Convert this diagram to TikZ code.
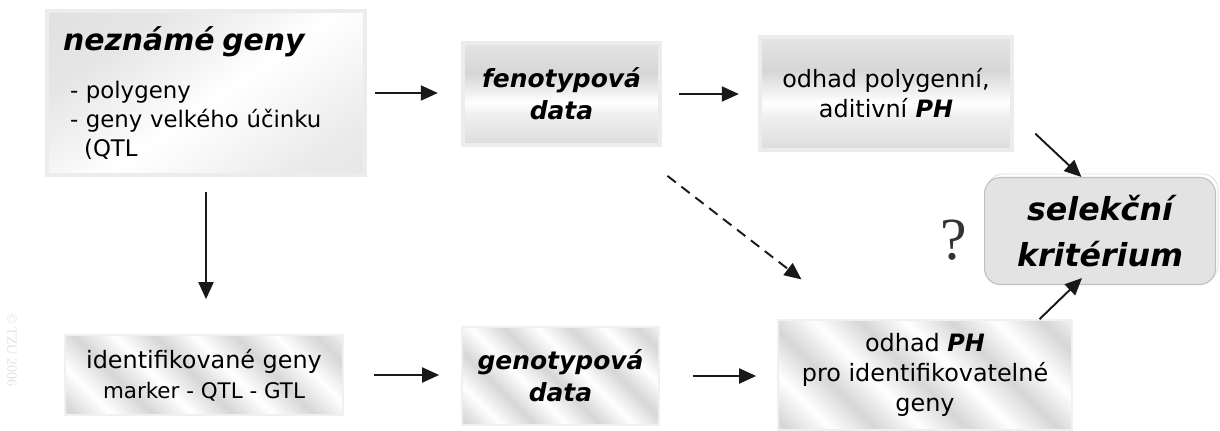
\documentclass[tikz,border=0pt]{standalone}
\usepackage{fontspec}
\setmainfont{DejaVu Sans}
\newfontfamily\qfont{Liberation Serif}
\usetikzlibrary{arrows.meta}

% shadings for the boxes
\pgfdeclarehorizontalshading{shine}{100bp}{color(0bp)=(gray!28); color(30bp)=(gray!20);
  color(44bp)=(gray!8); color(52bp)=(white); color(60bp)=(gray!5); color(75bp)=(gray!16); color(100bp)=(gray!24)}
\pgfdeclareverticalshading{bands}{100bp}{color(0bp)=(gray!28); color(5bp)=(gray!42); color(22bp)=(gray!30);
  color(40bp)=(gray!12); color(46bp)=(white); color(51bp)=(gray!12); color(60bp)=(gray!32); color(76bp)=(gray!20);
  color(92bp)=(gray!12); color(100bp)=(gray!18)}
\pgfdeclarehorizontalshading{brushed}{100bp}{color(0bp)=(gray!32); color(8bp)=(white); color(16bp)=(gray!32);
  color(24bp)=(white); color(32bp)=(gray!32); color(40bp)=(white); color(48bp)=(gray!32); color(56bp)=(white);
  color(64bp)=(gray!32); color(72bp)=(white); color(80bp)=(gray!32); color(88bp)=(white); color(96bp)=(gray!32);
  color(100bp)=(gray!20)}

\begin{document}
\begin{tikzpicture}[x=0.02cm,y=-0.02cm,>={Triangle[length=3.4mm,width=3mm]},
                    box node/.style={rectangle,inner sep=0pt,draw=gray!15,line width=2.5pt,align=center},
                    shine box/.style={box node,shading=shine,shading angle=-55},
                    band box/.style={box node,shading=bands},
                    brush box/.style={box node,draw=gray!12,line width=1pt,shading=brushed,shading angle=45},
                    head/.style={font=\fontsize{14.2}{18}\selectfont\bfseries\itshape},
                    plain/.style={font=\fontsize{13.6}{17}\selectfont},
                    arr/.style={->,line width=1.1pt,draw=black!90}]
\useasboundingbox (0,0) rectangle (1220,430);

% Create nodes for the diagram
\node[shine box,minimum width=6.36cm,minimum height=3.28cm,inner xsep=0.32cm,text width=5.72cm,align=left,
      font=\fontsize{13}{16.4}\selectfont] (unknown) at (206,93)
  {{\fontsize{17}{20}\selectfont\bfseries\itshape neznámé geny}\\[11pt]
   \hspace{4pt}- polygeny\\\hspace{4pt}- geny velkého účinku\\\hspace{12pt}(QTL};
\node[band box,head,minimum width=3.94cm,minimum height=2.04cm] (pheno) at (561.5,94) {fenotypová\\data};
\node[band box,plain,minimum width=5.04cm,minimum height=2.26cm] (estpoly) at (886,93.5)
  {odhad polygenní,\\aditivní \textbf{\textit{PH}}};
\node[rectangle,rounded corners=9pt,fill=gray!22,draw=gray!50,line width=0.6pt,
      preaction={draw=gray!25,line width=0.5pt,rounded corners=9pt,transform canvas={xshift=1.5pt,yshift=2pt}},
      font=\fontsize{18}{26}\selectfont\bfseries\itshape,align=center,
      minimum width=4.62cm,minimum height=2.14cm] (select) at (1100,231) {selekční\\kritérium};
\node[font=\qfont\fontsize{34}{34}\selectfont,text=black!80] (qmark) at (954,240) {?};
\node[brush box,plain,minimum width=5.56cm,minimum height=1.6cm] (ident) at (204,375)
  {identifikované geny\\{\fontsize{12.2}{15}\selectfont marker - QTL - GTL}};
\node[brush box,head,minimum width=3.94cm,minimum height=1.96cm] (geno) at (560.5,376) {genotypová\\data};
\node[brush box,plain,minimum width=5.88cm,minimum height=2.2cm] (estid) at (925,375)
  {odhad \textbf{\textit{PH}}\\pro identifikovatelné\\geny};
\node[rotate=-90,text=gray!22,font=\fontsize{8}{8}\selectfont\qfont] (mark) at (12,350) {© TZU 2006};

% Create edges for the diagram
\draw[arr,shorten <=0.16cm,shorten >=0.46cm] (unknown.east) -- (pheno.west |- unknown.east);
\draw[arr,shorten <=0.34cm,shorten >=0.38cm] (pheno.east) -- (estpoly.west |- pheno.east);
\draw[arr,shorten <=0.3cm,shorten >=0.7cm] (unknown.south) -- (unknown.south |- ident.north);
\draw[arr,shorten <=0.6cm,shorten >=0.44cm] (ident.east) -- (geno.west |- ident.east);
\draw[arr,shorten <=0.66cm,shorten >=0.42cm] (geno.east) -- (estid.west |- geno.east);
\draw[arr,dashed,dash pattern=on 6pt off 4pt,shorten <=0.94cm,shorten >=1.3cm] (pheno) -- (estid);
\draw[arr,shorten <=0.58cm] (estpoly.-9) -- (select.109);
\draw[arr,shorten >=-0.2cm] (estid.26.6) -- (select.-115);
\end{tikzpicture}
\end{document}
